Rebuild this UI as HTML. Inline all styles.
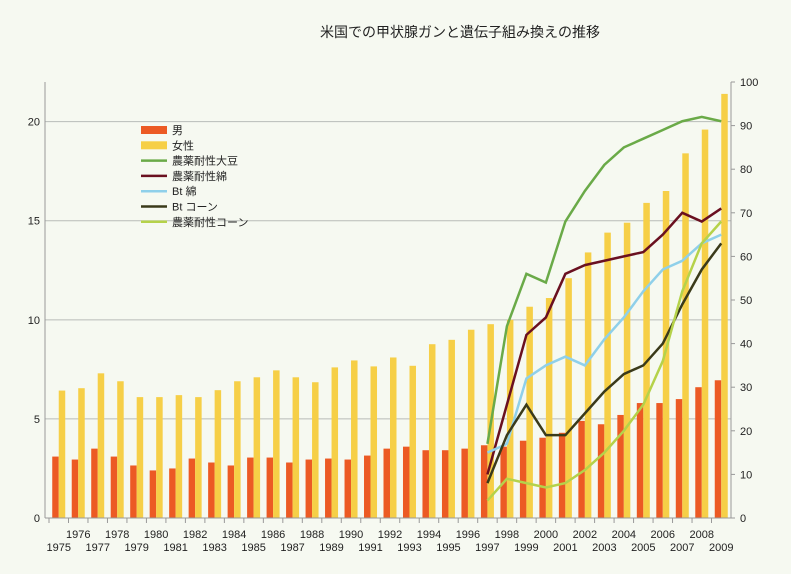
<!DOCTYPE html>
<html><head><meta charset="utf-8"><style>
body{margin:0;background:#f6f9f1;}
svg{display:block;font-family:"Liberation Sans","Noto Sans CJK JP",sans-serif;}
</style></head><body>
<svg id="c" width="791" height="574">
<rect width="791" height="574" fill="#f6f9f1"/>
<text x="460" y="37" text-anchor="middle" font-size="14" fill="#222">米国での甲状腺ガンと遺伝子組み換えの推移</text>
<g id="grid"></g><g id="bars"></g><g id="lines"></g><g id="axes"></g><g id="legend"></g>
</svg>
<script>
const years=[];for(let y=1975;y<=2009;y++)years.push(y);
const male=[3.1,2.95,3.5,3.1,2.65,2.4,2.5,3.0,2.8,2.65,3.05,3.05,2.8,2.95,3.0,2.95,3.15,3.5,3.6,3.42,3.42,3.5,3.67,3.6,3.9,4.05,4.3,4.9,4.73,5.2,5.8,5.8,6.0,6.6,6.95];
const female=[6.43,6.55,7.3,6.9,6.1,6.1,6.2,6.1,6.45,6.9,7.1,7.45,7.1,6.85,7.6,7.95,7.65,8.1,7.68,8.77,8.99,9.5,9.78,10.0,10.66,11.1,12.1,13.4,14.4,14.9,15.9,16.5,18.4,19.6,21.4];
const gmYears=[1997,1998,1999,2000,2001,2002,2003,2004,2005,2006,2007,2008,2009];
const htSoy=[17,44,56,54,68,75,81,85,87,89,91,92,91];
const htCotton=[10,26,42,46,56,58,59,60,61,65,70,68,71];
const btCotton=[15,17,32,35,37,35,41,46,52,57,59,63,65];
const btCorn=[8,19,26,19,19,24,29,33,35,40,49,57,63];
const htCorn=[4,9,8,7,8,11,15,20,26,36,52,63,68];
const leftTicks=[0,5,10,15,20];
const rightTicks=[0,10,20,30,40,50,60,70,80,90,100];
const AX0=45,AX1=731,X0=49,X1=731,Y0=518,YT=82;
const bw=(X1-X0)/years.length;
const xc=y=>X0+(years.indexOf(y)+0.5)*bw;
const yl=v=>Y0-v/22*(Y0-YT);
const yr=v=>Y0-v/100*(Y0-YT);
const NS="http://www.w3.org/2000/svg";
function mk(p,t,a){const e=document.createElementNS(NS,t);for(const k in a)e.setAttribute(k,a[k]);p.appendChild(e);return e;}
const G=document.getElementById('grid'),B=document.getElementById('bars'),L=document.getElementById('lines'),A=document.getElementById('axes'),LG=document.getElementById('legend');
leftTicks.forEach(t=>{if(t>0){const g=mk(G,'line',{x1:AX0,x2:AX1,y1:yl(t),y2:yl(t),stroke:'#b8bcb8','stroke-width':1});

}
const tx=mk(A,'text',{x:40,y:yl(t)+4,'text-anchor':'end','font-size':11,fill:'#222'});tx.textContent=t;

});
rightTicks.forEach(t=>{const tx=mk(A,'text',{x:740,y:yr(t)+4,'font-size':11,fill:'#222'});tx.textContent=t;


mk(A,'line',{x1:AX1,x2:AX1+4,y1:yr(t),y2:yr(t),stroke:'#999'});});
mk(A,'line',{x1:AX0,x2:AX0,y1:YT,y2:Y0,stroke:'#999'});
mk(A,'line',{x1:AX1,x2:AX1,y1:YT,y2:Y0,stroke:'#999'});
mk(A,'line',{x1:AX0,x2:AX1,y1:Y0,y2:Y0,stroke:'#999'});
years.forEach((y,i)=>{const x=xc(y);
const m=mk(B,'rect',{x:x-6.5,y:yl(male[i]),width:6.5,height:Y0-yl(male[i]),fill:'#ec5a24'});


const f=mk(B,'rect',{x:x,y:yl(female[i]),width:6.5,height:Y0-yl(female[i]),fill:'#f6cf47'});


mk(A,'line',{x1:X0+i*bw,x2:X0+i*bw,y1:Y0,y2:Y0+5,stroke:'#999'});
const tx=mk(A,'text',{x:x,y:i%2?538:551,'text-anchor':'middle','font-size':11,fill:'#222'});tx.textContent=y;

});
const series=[[htSoy,'#6aaa48','ht-soybean-line'],[htCotton,'#6a1020','ht-cotton-line'],[btCotton,'#8fd0ea','bt-cotton-line'],[btCorn,'#3a3a1a','bt-corn-line'],[htCorn,'#b5d24a','ht-corn-line']];
series.forEach(([d,c,n])=>{const p=mk(L,'polyline',{points:d.map((v,i)=>xc(gmYears[i])+','+yr(v)).join(' '),fill:'none',stroke:c,'stroke-width':2.5});

});
const legendLabels=['男','女性','農薬耐性大豆','農薬耐性綿','Bt 綿','Bt コーン','農薬耐性コーン'];
const legendColors=['#ec5a24','#f6cf47','#6aaa48','#6a1020','#8fd0ea','#3a3a1a','#b5d24a'];
legendLabels.forEach((t,i)=>{const y=130+i*15.3;
if(i<2)mk(LG,'rect',{x:141,y:y-4,width:26,height:8,fill:legendColors[i]});else mk(LG,'line',{x1:141,x2:167,y1:y,y2:y,stroke:legendColors[i],'stroke-width':2.5});
const tx=mk(LG,'text',{x:172,y:y+4,'font-size':11,fill:'#222'});tx.textContent=t;

});
</script>
</body></html>
